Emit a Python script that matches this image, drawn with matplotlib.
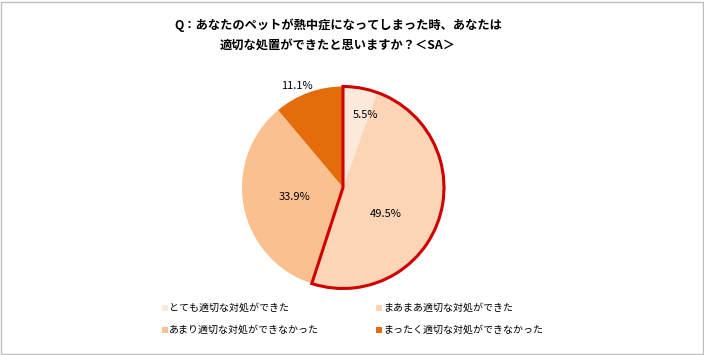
import matplotlib
matplotlib.use("Agg")
import matplotlib.pyplot as plt
from matplotlib.patches import Wedge, Rectangle
import numpy as np

plt.rcParams['font.family'] = ['Noto Sans CJK JP', 'DejaVu Sans']

title = "Q：あなたのペットが熱中症になってしまった時、あなたは\n適切な処置ができたと思いますか？＜SA＞"
categories = ["とても適切な対処ができた", "まあまあ適切な対処ができた",
              "あまり適切な対処ができなかった", "まったく適切な対処ができなかった"]
values = [5.5, 49.5, 33.9, 11.1]
colors = ["#FDE9D9", "#FBD5B5", "#FAC090", "#E46C0A"]
label_radius = [0.755, 0.50, 0.49, 1.10]
label_angle_shift = [-7, -13, 0, 4.5]

W, H = 704, 355
fig = plt.figure(figsize=(W / 100, H / 100), dpi=100)
ax = fig.add_axes([0, 0, 1, 1])
ax.set_xlim(0, W)
ax.set_ylim(0, H)
ax.set_aspect('equal')
ax.axis('off')

# figure border
ax.add_patch(Rectangle((1, 1), W - 2.5, H - 2.5, fill=False, edgecolor="#BFBFBF", linewidth=1))

cx, cy, R = 343, H - 187.5, 101
wedges, texts, autotexts = ax.pie(values, colors=colors, startangle=90, counterclock=False,
                                  center=(cx, cy), radius=R, autopct="%.1f%%",
                                  wedgeprops=dict(linewidth=0),
                                  textprops=dict(fontsize=8, color="black"))
total = sum(values)
cum = 0
for v, t, r, s in zip(values, autotexts, label_radius, label_angle_shift):
    mid = np.deg2rad(90 - (cum + v / 2) / total * 360 + s)
    t.set_position((cx + r * R * np.cos(mid), cy + r * R * np.sin(mid)))
    cum += v

# highlight outline around first two slices
hl = (values[0] + values[1]) / total * 360
ax.add_patch(Wedge((cx, cy), R, 90 - hl, 90, facecolor="none", edgecolor="#D00000",
                   linewidth=2.2, joinstyle="miter"))
ax.set_xlim(0, W)
ax.set_ylim(0, H)

ax.text(338, H - 35, title, ha="center", va="center", fontsize=8.8,
        fontweight="bold", linespacing=1.6)

# legend
leg_x = [165, 379]
leg_y = [H - 308, H - 330]
for i, (cat, col) in enumerate(zip(categories, colors)):
    x = leg_x[i % 2]
    y = leg_y[i // 2]
    ax.add_patch(Rectangle((x - 3, y - 3), 6, 6, facecolor=col, edgecolor="none"))
    ax.text(x + 4, y, cat, ha="left", va="center", fontsize=7.2)

fig.savefig("out.png", dpi=100)
